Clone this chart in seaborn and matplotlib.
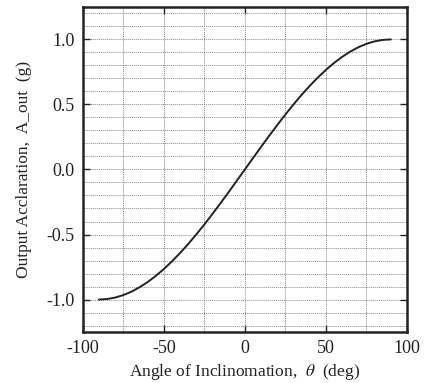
import numpy as np
import pandas as pd
import seaborn as sns
import matplotlib.pyplot as plt
from matplotlib.ticker import MultipleLocator

# angle (deg) vs output acceleration (g)
angle_deg = [-90, -85, -80, -75, -70, -65, -60, -55, -50, -45, -40, -35, -30, -25, -20, -15, -10, -5,
             0, 5, 10, 15, 20, 25, 30, 35, 40, 45, 50, 55, 60, 65, 70, 75, 80, 85, 90]
accel_g = [-1.000, -0.996, -0.985, -0.966, -0.940, -0.906, -0.866, -0.819, -0.766, -0.707, -0.643,
           -0.574, -0.500, -0.423, -0.342, -0.259, -0.174, -0.087,
           0.000, 0.087, 0.174, 0.259, 0.342, 0.423, 0.500, 0.574, 0.643, 0.707, 0.766, 0.819,
           0.866, 0.906, 0.940, 0.966, 0.985, 0.996, 1.000]

df = pd.DataFrame({'theta': angle_deg, 'a_out': accel_g})

sns.set_style('ticks')
plt.rcParams['font.family'] = ['Liberation Serif', 'DejaVu Serif']
plt.rcParams['mathtext.fontset'] = 'stix'
plt.rcParams['axes.unicode_minus'] = False

fig = plt.figure(figsize=(4.24, 3.83), dpi=100)
ax = fig.add_axes([0.195, 0.133, 0.765, 0.849])

sns.lineplot(data=df, x='theta', y='a_out', ax=ax, color='#222222', linewidth=1.4)

ax.set_xlim(-100, 100)
ax.set_ylim(-1.25, 1.25)
ax.xaxis.set_major_locator(MultipleLocator(50))
ax.xaxis.set_minor_locator(MultipleLocator(25))
ax.yaxis.set_major_locator(MultipleLocator(0.5))
ax.yaxis.set_minor_locator(MultipleLocator(0.1))
ax.yaxis.set_major_formatter(plt.FormatStrFormatter('%.1f'))

ax.grid(True, which='both', color='#8a8a8a', linestyle=(0, (1, 1)), linewidth=0.7)
ax.tick_params(which='major', direction='in', length=5, width=1, top=True, right=True,
               labelsize=13, colors='#222222', pad=6)
ax.tick_params(which='minor', length=0)
for s in ax.spines.values():
    s.set_linewidth(1.8)
    s.set_color('#222222')

ax.set_xlabel(r'Angle of Inclinomation,  $\theta$  (deg)', fontsize=12.5, color='#222222', labelpad=3)
ax.set_ylabel('Output Acclaration,  A_out  (g)', fontsize=12.5, color='#222222', labelpad=10)

fig.savefig('out.png', dpi=100)
